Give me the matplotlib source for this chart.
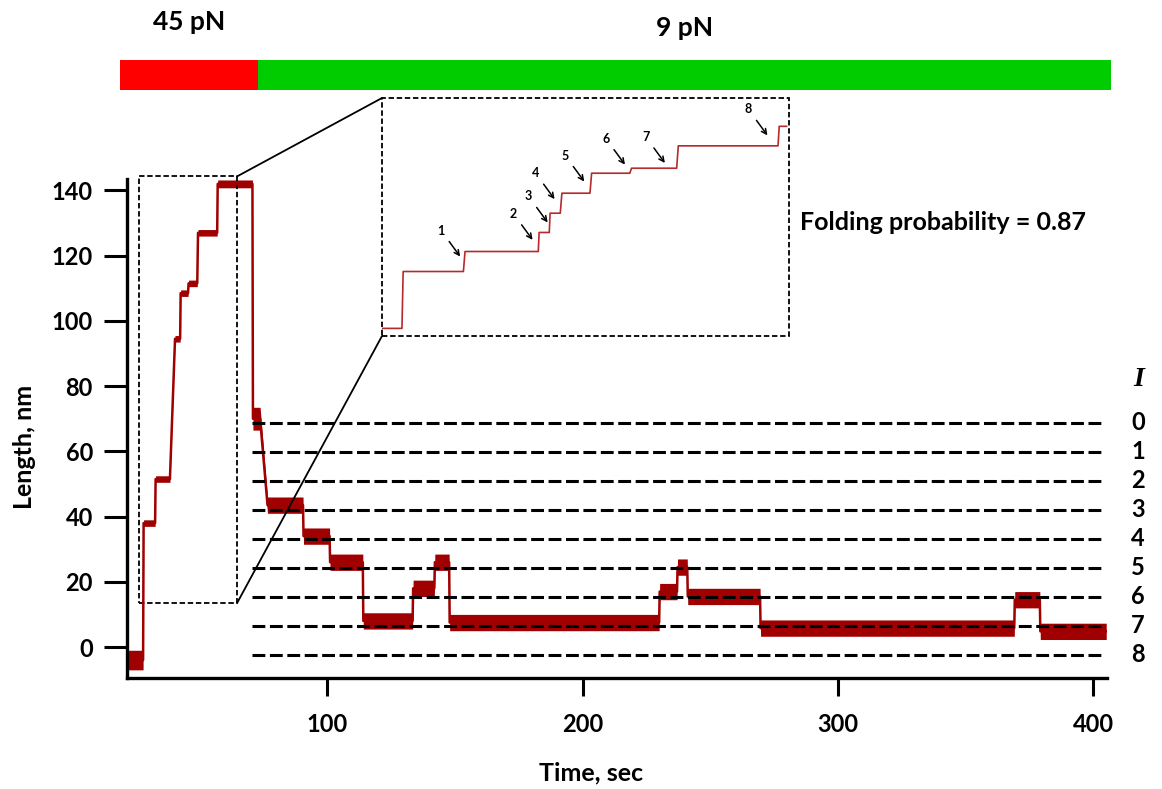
import matplotlib
matplotlib.use("Agg")
import matplotlib.pyplot as plt
from matplotlib.patches import Rectangle, ConnectionPatch
import numpy as np

# --- values ---

# main trace, as plateaus: start time, end time (sec), length (nm), noise half-width (nm)
plateau_start = [22.0, 28.2, 32.9, 40.5, 42.7, 45.8, 49.5, 57.2, 71.0, 76.7, 90.8,
                 101.2, 114.2, 133.7, 142.2, 148.0, 230.2, 237.2, 241.2, 269.7, 369.2, 379.2]
plateau_end = [28.0, 32.7, 38.5, 42.5, 45.6, 49.2, 57.0, 70.8, 73.8, 90.6, 101.0,
               114.0, 133.5, 142.0, 147.8, 230.0, 237.0, 241.0, 269.5, 369.0, 379.0, 405.0]
plateau_level = [-4.0, 38.0, 51.5, 94.5, 108.5, 111.5, 127.0, 142.0, 70.0, 43.5, 34.0,
                 26.0, 8.0, 18.0, 26.0, 7.5, 17.0, 24.5, 15.5, 5.8, 14.5, 4.8]
plateau_noise = [3.0, 1.0, 1.0, 1.0, 1.0, 1.0, 1.0, 1.2, 3.5, 2.5, 2.5,
                 2.5, 2.5, 2.5, 2.5, 2.5, 2.5, 2.5, 2.5, 2.5, 2.5, 2.5]

# intermediate states I = 0..8 (dashed lines)
state_levels = [68.8, 59.9, 51.0, 42.1, 33.2, 24.3, 15.4, 6.5, -2.4]
state_labels = ['0', '1', '2', '3', '4', '5', '6', '7', '8']
state_t_range = (70.6, 404.0)

# force protocol bar
force_labels = ['45 pN', '9 pN']
force_start = [19.0, 73.0]
force_end = [73.0, 407.0]
force_colors = ['#ff0000', '#00cc00']

# region shown in the inset
zoom_t = (26.4, 64.8)
zoom_len = (13.5, 144.3)

# inset trace (arbitrary units, 0-100 on both axes)
inset_start = [0.0, 5.2, 20.4, 38.6, 41.3, 44.2, 51.5, 61.3, 72.8, 97.6]
inset_end = [4.9, 20.0, 38.4, 41.1, 43.8, 51.1, 60.9, 72.4, 97.3, 99.4]
inset_level = [3.2, 27.1, 35.5, 43.5, 51.6, 60.0, 68.4, 70.5, 79.9, 88.1]

# arrows marking the folding steps in the inset
arrow_labels = ['1', '2', '3', '4', '5', '6', '7', '8']
arrow_t = [19.2, 37.0, 40.7, 42.4, 49.7, 59.7, 69.5, 94.7]
arrow_len = [33.4, 40.4, 47.7, 57.5, 64.9, 72.0, 72.7, 84.3]

folding_probability = 0.87

# --- figure ---
plt.rcParams['font.family'] = ['Lato', 'DejaVu Sans']
plt.rcParams['font.weight'] = 'bold'

W, H = 1162, 789
fig = plt.figure(figsize=(W / 100, H / 100), dpi=100)
ax = fig.add_axes([127 / W, (H - 678) / H, 980 / W, 499 / H])

trace_color = '#a00000'


def plateaus_to_trace(starts, ends, levels):
    t = np.ravel(np.column_stack([starts, ends]))
    y = np.repeat(levels, 2)
    return t, y


t, y = plateaus_to_trace(plateau_start, plateau_end, plateau_level)
noise = np.repeat(plateau_noise, 2)
ax.fill_between(t, y - noise, y + noise, color=trace_color, lw=0)
ax.plot(t, y, color=trace_color, lw=1.8)

# dashed intermediate-state lines and their labels
for lvl, lab in zip(state_levels, state_labels):
    ax.plot(state_t_range, [lvl, lvl], color='black', lw=2.2, ls=(0, (4.2, 1.5)))
    ax.text(417.5, lvl, lab, ha='center', va='center', fontsize=17,
            fontweight='bold', clip_on=False)
ax.text(417.5, 82.0, 'I', ha='center', va='center', fontsize=20,
        family='Liberation Serif', style='italic', fontweight='bold', clip_on=False)

# dashed box around zoomed region
ax.add_patch(Rectangle((zoom_t[0], zoom_len[0]), zoom_t[1] - zoom_t[0],
                       zoom_len[1] - zoom_len[0], fill=False, ec='black', lw=1.3,
                       ls=(0, (3, 1.5)), clip_on=False))

ax.set_xlim(21.7, 405.3)
ax.set_ylim(-9.5, 143.5)
ax.set_xticks([100, 200, 300, 400])
ax.set_yticks(range(0, 141, 20))
for side in ['top', 'right']:
    ax.spines[side].set_visible(False)
for side in ['left', 'bottom']:
    ax.spines[side].set_linewidth(2.4)
ax.tick_params(axis='y', direction='out', length=16.5, width=2.2, pad=8, labelsize=17)
ax.tick_params(axis='x', direction='out', length=13, width=2.2, pad=12, labelsize=17)
for lab in ax.get_xticklabels() + ax.get_yticklabels():
    lab.set_fontweight('bold')

fig.text(591 / W, 1 - 773 / H, 'Time, sec', ha='center', va='center', fontsize=18,
         fontweight='bold')
fig.text(25 / W, 1 - 447 / H, 'Length, nm', ha='center', va='center', fontsize=18,
         fontweight='bold', rotation=90)
fig.text(800 / W, 1 - 222 / H, f'Folding probability = {folding_probability}',
         ha='left', va='center', fontsize=18, fontweight='bold')

# --- force bar on top ---
ax_bar = fig.add_axes([127 / W, (H - 90) / H, 980 / W, 30 / H])
ax_bar.set_xlim(ax.get_xlim())
ax_bar.set_ylim(0, 1)
ax_bar.barh(0.5, np.subtract(force_end, force_start), left=force_start, height=1,
            color=force_colors, clip_on=False)
label_y = [2.25, 2.05]
for s, e, lab, ly in zip(force_start, force_end, force_labels, label_y):
    ax_bar.text((s + e) / 2, ly, lab, ha='center', va='center', fontsize=19,
                fontweight='bold', transform=ax_bar.get_xaxis_transform())
ax_bar.axis('off')

# --- inset ---
axin = fig.add_axes([382 / W, (H - 336) / H, 407 / W, 238 / H])
axin.set_xlim(0, 100)
axin.set_ylim(0, 100)
it, iy = plateaus_to_trace(inset_start, inset_end, inset_level)
axin.plot(it, iy, color='#b52a2a', lw=1.2)
for lab, at, al in zip(arrow_labels, arrow_t, arrow_len):
    axin.annotate(lab, xy=(at, al), xytext=(-19, 26), textcoords='offset pixels',
                  ha='center', va='center', fontsize=9, fontweight='bold',
                  arrowprops=dict(arrowstyle='->', color='black', lw=1.1,
                                  shrinkA=2, shrinkB=0))
axin.add_patch(Rectangle((0, 0), 1, 1, transform=axin.transAxes, fill=False,
                         ec='black', lw=1.3, ls=(0, (3, 1.5)), clip_on=False))
axin.axis('off')

# lines connecting zoom box to inset
for (tz, lz), corner in [((zoom_t[1], zoom_len[1]), (0, 1)),
                          ((zoom_t[1], zoom_len[0]), (0, 0))]:
    con = ConnectionPatch(xyA=(tz, lz), coordsA=ax.transData, xyB=corner,
                          coordsB=axin.transAxes, color='black', lw=1.3)
    fig.add_artist(con)

fig.savefig('out.png', dpi=100)
